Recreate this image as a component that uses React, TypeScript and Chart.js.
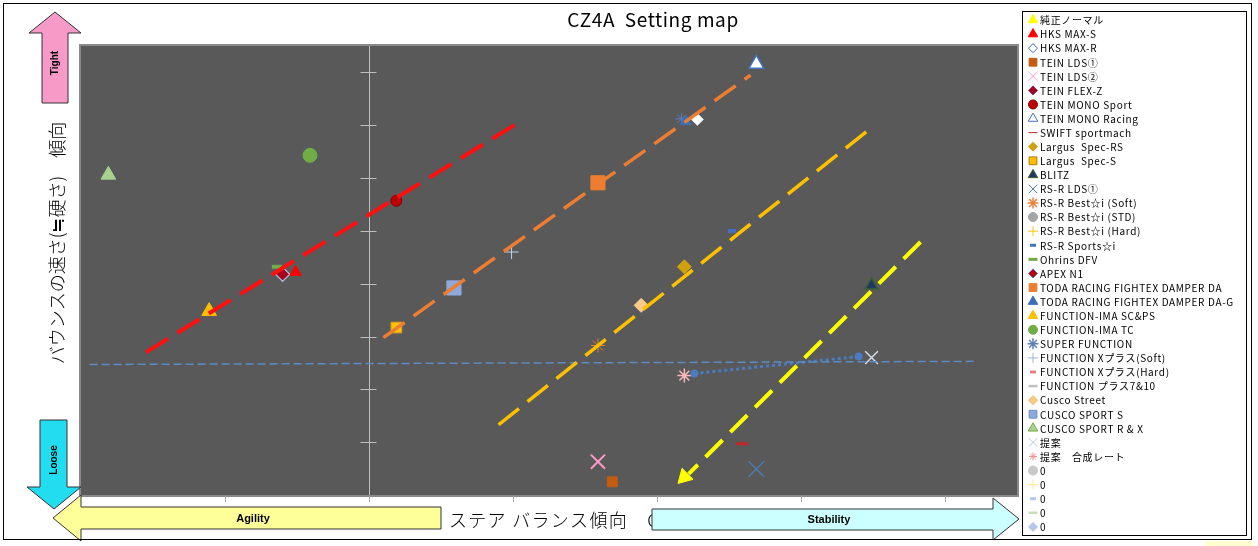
import React, { useEffect, useRef } from 'react';
import { Chart, registerables } from 'chart.js';
import { drawPoint } from 'chart.js/helpers';

Chart.register(...registerables);

// ---------- data ----------
const seriesNames = [
  '純正ノーマル', 'HKS MAX-S', 'HKS MAX-R', 'TEIN LDS①', 'TEIN LDS②', 'TEIN FLEX-Z',
  'TEIN MONO Sport', 'TEIN MONO Racing', 'SWIFT sportmach', 'Largus  Spec-RS', 'Largus  Spec-S',
  'BLITZ', 'RS-R LDS①', 'RS-R Best☆i (Soft)', 'RS-R Best☆i (STD)', 'RS-R Best☆i (Hard)',
  'RS-R Sports☆i', 'Ohrins DFV', 'APEX N1', 'TODA RACING FIGHTEX DAMPER DA',
  'TODA RACING FIGHTEX DAMPER DA-G', 'FUNCTION-IMA SC&PS', 'FUNCTION-IMA TC', 'SUPER FUNCTION',
  'FUNCTION Xプラス(Soft)', 'FUNCTION Xプラス(Hard)', 'FUNCTION プラス7&10', 'Cusco Street',
  'CUSCO SPORT S', 'CUSCO SPORT R & X', '提案', '提案　合成レート', '0', '0', '0', '0', '0',
];
const seriesX: (number | null)[] = [
  2.19, -0.51, 2.28, 1.69, 1.59, -0.60,
  0.19, 2.69, 2.59, 2.19, 0.19,
  3.49, 2.69, 1.59, null, null,
  2.52, -0.64, -0.60, 1.59,
  2.20, -1.11, -0.41, 2.17,
  0.99, 1.60, null, 1.89,
  0.59, -1.81, 3.49, 2.19, null, null, null, null, null,
];
const seriesY: (number | null)[] = [
  0.34, 4.22, 7.11, 0.25, 0.63, 4.18,
  5.57, 8.16, 0.97, 4.32, 3.17,
  3.97, 0.49, 2.83, null, null,
  5.0, 4.32, 4.18, 5.91,
  7.07, 3.48, 6.43, 7.12,
  4.6, 5.93, null, 3.59,
  3.92, 6.06, 2.6, 2.26, null, null, null, null, null,
];

const trendNames = ['redTrend', 'orangeTrend', 'goldTrend', 'yellowTrend', 'baseline', 'move'];
const trendX = [
  [-1.55, 1.02],
  [0.10, 2.65],
  [0.90, 3.51],
  [3.83, 2.22],
  [-1.94, 4.20],
  [2.26, 3.40],
];
const trendY = [
  [2.70, 7.02],
  [2.98, 7.95],
  [1.33, 7.0],
  [4.79, 0.40],
  [2.47, 2.53],
  [2.30, 2.62],
];

const xTicks = [-1, 0, 1, 2, 3, 4];
const yTicks = [1, 2, 3, 4, 5, 6, 7, 8];
const X_MIN = -2, X_MAX = 4.5, Y_MIN = 0, Y_MAX = 8.5;

const titleText = 'CZ4A  Setting map';
const xTitle = 'ステア バランス傾向　O';
const yTitle = 'バウンスの速さ(≒硬さ)　傾向';

// ---------- styles ----------
type PS = { s: string; bg: string; bc: string; r: number; bw: number; rot?: number; lr: number; lbw?: number; lbc?: string };
const seriesStyles: PS[] = [
  { s: 'triangle', bg: '#FFFF00', bc: '#FFFF00', r: 9, bw: 1, rot: 225, lr: 5.5 },
  { s: 'triangle', bg: '#FF0000', bc: '#FF0000', r: 6.5, bw: 1, lr: 5.5 },
  { s: 'rectRot', bg: '#FFFFFF', bc: '#DCE3EE', r: 6, bw: 1, lr: 4.5, lbc: '#4472C4' },
  { s: 'rect', bg: '#C55A11', bc: '#C55A11', r: 7, bw: 1, lr: 5.5 },
  { s: 'crossRot', bg: '#FF99CC', bc: '#FF99CC', r: 10, bw: 2, lr: 6.5 },
  { s: 'rectRot', bg: '#A5001E', bc: '#A5001E', r: 5.5, bw: 1, lr: 4.5, lbc: '#7F2F6F' },
  { s: 'circle', bg: '#C00000', bc: '#7F0000', r: 5.5, bw: 1, lr: 4.5 },
  { s: 'triangle', bg: '#FFFFFF', bc: '#4472C4', r: 8.5, bw: 1.5, lr: 5.5 },
  { s: 'line', bg: '#C0282D', bc: '#C0282D', r: 6, bw: 3, lr: 4.5 },
  { s: 'rectRot', bg: '#CFA10E', bc: '#CFA10E', r: 7, bw: 1, lr: 4.5 },
  { s: 'rect', bg: '#FFC000', bc: '#E3A21A', r: 7.5, bw: 1, lr: 5.5, lbc: '#B07A10' },
  { s: 'triangle', bg: '#1F3864', bc: '#3B6030', r: 7.5, bw: 1.5, lr: 5.5 },
  { s: 'crossRot', bg: '#4E79A7', bc: '#4E79A7', r: 11, bw: 1.5, lr: 6 },
  { s: 'star', bg: '#E8823A', bc: '#E8823A', r: 7, bw: 1, lr: 5.5, lbw: 1.5 },
  { s: 'circle', bg: '#A5A5A5', bc: '#A5A5A5', r: 5, bw: 1, lr: 4.5 },
  { s: 'cross', bg: '#FFC000', bc: '#FFC000', r: 6, bw: 1, lr: 5 },
  { s: 'line', bg: '#4472C4', bc: '#4472C4', r: 4, bw: 4, lr: 3, lbw: 3 },
  { s: 'line', bg: '#70AD47', bc: '#70AD47', r: 5, bw: 4, lr: 4.5, lbw: 3 },
  { s: 'rectRot', bg: '#C00000', bc: '#A9B8D8', r: 7, bw: 1.5, lr: 4.5, lbc: '#4472C4' },
  { s: 'rect', bg: '#ED7D31', bc: '#ED7D31', r: 10, bw: 1, lr: 5.5 },
  { s: 'triangle', bg: '#3D6FB6', bc: '#3D6FB6', r: 6.5, bw: 1, lr: 5.5 },
  { s: 'triangle', bg: '#FFC000', bc: '#FFC000', r: 8.5, bw: 1, lr: 5.5 },
  { s: 'circle', bg: '#70AD47', bc: '#70AD47', r: 7, bw: 1, lr: 4.5 },
  { s: 'star', bg: '#5B7FBF', bc: '#5B7FBF', r: 6, bw: 1, lr: 5.5, lbw: 1.5 },
  { s: 'cross', bg: '#BDD7EE', bc: '#BDD7EE', r: 7, bw: 1, lr: 5, lbc: '#9DB7D8' },
  { s: 'line', bg: '#F4A6A6', bc: '#F4A6A6', r: 3, bw: 4, lr: 3, lbw: 3, lbc: '#E88080' },
  { s: 'line', bg: '#A5A5A5', bc: '#A5A5A5', r: 5, bw: 3, lr: 4.5, lbw: 2.5, lbc: '#C0C0C0' },
  { s: 'rectRot', bg: '#F8CB8A', bc: '#F8CB8A', r: 7, bw: 1, lr: 4.5, lbc: '#F4B860' },
  { s: 'rect', bg: '#8EA9DB', bc: '#8EA9DB', r: 10, bw: 1, lr: 5.5, lbc: '#6F8FCB' },
  { s: 'triangle', bg: '#A9D18E', bc: '#A9D18E', r: 8.5, bw: 1, lr: 5.5, lbc: '#70AD47' },
  { s: 'crossRot', bg: '#D6DCE5', bc: '#D6DCE5', r: 9, bw: 1.5, lr: 6, lbc: '#B8C4D6' },
  { s: 'star', bg: '#F8B9B9', bc: '#F8B9B9', r: 7, bw: 1.5, lr: 4, lbc: '#F09090' },
  { s: 'circle', bg: '#C9C9C9', bc: '#C9C9C9', r: 5, bw: 1, lr: 4.5 },
  { s: 'cross', bg: '#FFE699', bc: '#FFE699', r: 5, bw: 1, lr: 5 },
  { s: 'line', bg: '#B4C7E7', bc: '#B4C7E7', r: 3, bw: 3, lr: 3, lbw: 3 },
  { s: 'line', bg: '#C5E0B4', bc: '#C5E0B4', r: 5, bw: 3, lr: 4.5, lbw: 2.5 },
  { s: 'rectRot', bg: '#B4C7E7', bc: '#B4C7E7', r: 6, bw: 1, lr: 4.5 },
];

type TS = { c: string; w: number; dash: number[]; pr?: number; cap?: CanvasLineCap };
const trendStyles: TS[] = [
  { c: '#FF1010', w: 4, dash: [26, 11] },
  { c: '#ED7D31', w: 3.5, dash: [26, 11] },
  { c: '#FFC000', w: 3.5, dash: [26, 11] },
  { c: '#FFFF00', w: 4, dash: [24, 11] },
  { c: '#5B8DC0', w: 1.5, dash: [8, 4] },
  { c: '#4A7CC0', w: 3, dash: [3, 3], pr: 4, cap: 'butt' },
];

const FONT = '"Noto Sans CJK JP", "Noto Sans", sans-serif';

function arrow(ctx: CanvasRenderingContext2D, pts: number[][], fill: string) {
  ctx.save();
  ctx.beginPath();
  pts.forEach((p, i) => (i ? ctx.lineTo(p[0], p[1]) : ctx.moveTo(p[0], p[1])));
  ctx.closePath();
  ctx.fillStyle = fill;
  ctx.fill();
  ctx.strokeStyle = '#333333';
  ctx.lineWidth = 1;
  ctx.stroke();
  ctx.restore();
}

const framePlugin = {
  id: 'frame',
  beforeDraw(chart: any) {
    const ctx: CanvasRenderingContext2D = chart.ctx;
    const { left, top, right, bottom } = chart.chartArea;
    const xs = chart.scales.x, ys = chart.scales.y;
    ctx.save();
    ctx.fillStyle = '#FFFFFF';
    ctx.fillRect(0, 0, chart.width, chart.height);
    ctx.fillStyle = '#595959';
    ctx.fillRect(left, top, right - left, bottom - top);
    ctx.strokeStyle = '#8A8A8A';
    ctx.lineWidth = 2;
    ctx.strokeRect(left - 1, top - 1, right - left + 2, bottom - top + 2);
    const x0 = Math.round(xs.getPixelForValue(0)) + 0.5;
    ctx.strokeStyle = '#BFBFBF';
    ctx.lineWidth = 1;
    ctx.beginPath();
    ctx.moveTo(x0, top);
    ctx.lineTo(x0, bottom);
    yTicks.forEach((v) => {
      const y = Math.round(ys.getPixelForValue(v)) + 0.5;
      ctx.moveTo(x0 - 9, y);
      ctx.lineTo(x0 + 7, y);
    });
    ctx.stroke();
    ctx.strokeStyle = '#A6A6A6';
    ctx.beginPath();
    xTicks.forEach((v) => {
      const x = Math.round(xs.getPixelForValue(v)) + 0.5;
      ctx.moveTo(x, bottom + 1);
      ctx.lineTo(x, bottom + 7);
    });
    ctx.stroke();
    ctx.restore();
  },
  afterDraw(chart: any) {
    const ctx: any = chart.ctx;
    ctx.save();
    // title
    ctx.fillStyle = '#000';
    ctx.font = `19px ${FONT}`;
    ctx.letterSpacing = '0.6px';
    ctx.textAlign = 'center';
    ctx.textBaseline = 'middle';
    ctx.fillText(titleText, 653, 20);
    ctx.letterSpacing = '0px';
    // y title
    ctx.save();
    ctx.translate(57, 243);
    ctx.rotate(-Math.PI / 2);
    ctx.font = `300 18px ${FONT}`;
    ctx.fillText(yTitle, 0, 0);
    ctx.restore();
    // x title
    ctx.textAlign = 'left';
    ctx.font = `300 18px ${FONT}`;
    ctx.letterSpacing = '1.3px';
    ctx.fillText(xTitle, 449, 520);
    ctx.letterSpacing = '0px';

    // arrows
    arrow(ctx, [[441, 507], [81, 507], [81, 495], [53, 518], [81, 541], [81, 529], [441, 529]], '#FFFF99');
    arrow(ctx, [[652, 509], [993, 509], [993, 498], [1019, 519], [993, 540], [993, 530], [652, 530]], '#CCFFFF');
    arrow(ctx, [[42, 103], [42, 33], [29, 33], [55, 12], [81, 33], [68, 33], [68, 103]], '#F79AC8');
    arrow(ctx, [[40, 420], [67, 420], [67, 487], [81, 487], [54, 509], [27, 487], [40, 487]], '#22DDF0');
    ctx.fillStyle = '#000';
    ctx.textAlign = 'center';
    ctx.textBaseline = 'middle';
    ctx.font = `bold 11px "Liberation Sans", Arial, sans-serif`;
    ctx.fillText('Agility', 253, 519);
    ctx.fillText('Stability', 829, 520);
    ctx.font = `bold 10px "Liberation Sans", Arial, sans-serif`;
    ctx.save();
    ctx.translate(55, 63);
    ctx.rotate(-Math.PI / 2);
    ctx.fillText('Tight', 0, 0);
    ctx.restore();
    ctx.save();
    ctx.translate(54, 460);
    ctx.rotate(-Math.PI / 2);
    ctx.fillText('Loose', 0, 0);
    ctx.restore();

    // legend
    ctx.fillStyle = '#FFFFFF';
    ctx.fillRect(1022.5, 11.5, 224, 524);
    ctx.strokeStyle = '#000';
    ctx.lineWidth = 1;
    ctx.strokeRect(1022.5, 11.5, 224, 524);
    ctx.font = `10px ${FONT}`;
    ctx.textAlign = 'left';
    ctx.textBaseline = 'middle';
    seriesNames.forEach((name, i) => {
      const st = seriesStyles[i];
      const y = 20 + i * 14.08;
      ctx.save();
      ctx.fillStyle = st.bg;
      ctx.strokeStyle = st.lbc || st.bc;
      ctx.lineWidth = st.lbw || 1;
      drawPoint(ctx, { pointStyle: st.s as any, rotation: 0, radius: st.lr, borderWidth: st.lbw || 1 } as any, 1033, y);
      ctx.restore();
      ctx.fillStyle = '#000';
      ctx.letterSpacing = '0.65px';
      ctx.fillText(name, 1040, y + 0.5);
    });
    ctx.letterSpacing = '0px';

    // outer border
    ctx.strokeStyle = '#000';
    ctx.lineWidth = 1;
    ctx.strokeRect(3.5, 3.5, 1248, 536);
    ctx.fillStyle = '#FFFFD0';
    ctx.fillRect(1205, 541, 48, 5);
    ctx.restore();
  },
};

export default function App() {
  const ref = useRef<HTMLCanvasElement | null>(null);
  useEffect(() => {
    document.body.style.margin = '0';
    const canvas = ref.current;
    if (!canvas) return;
    const pointSets = seriesNames.map((name, i) => {
      const st = seriesStyles[i];
      const x = seriesX[i], y = seriesY[i];
      return {
        type: 'scatter' as const,
        label: name,
        data: x === null || y === null ? [] : [{ x, y }],
        pointStyle: st.s,
        pointRotation: st.rot || 0,
        backgroundColor: st.bg,
        borderColor: st.bc,
        pointRadius: st.r,
        pointBorderWidth: st.bw,
        showLine: false,
        order: 1,
      };
    });
    const lineSets = trendNames.map((name, i) => {
      const st = trendStyles[i];
      return {
        type: 'scatter' as const,
        label: name,
        data: trendX[i].map((x, j) => ({ x, y: trendY[i][j] })),
        showLine: true,
        borderColor: st.c,
        backgroundColor: st.c,
        borderWidth: st.w,
        borderDash: st.dash,
        borderCapStyle: st.cap || 'butt',
        pointRadius: st.pr || 0,
        pointBorderWidth: 0,
        order: 0,
      };
    });
    const chart = new Chart(canvas, {
      type: 'scatter',
      data: { datasets: [...lineSets, ...pointSets] as any },
      options: {
        animation: false,
        responsive: false,
        devicePixelRatio: 1,
        layout: { padding: { left: 81, top: 46, right: 241, bottom: 51 } },
        scales: {
          x: { type: 'linear', min: X_MIN, max: X_MAX, display: false },
          y: { type: 'linear', min: Y_MIN, max: Y_MAX, display: false },
        },
        plugins: { legend: { display: false }, tooltip: { enabled: false }, title: { display: false } },
      },
      plugins: [framePlugin],
    });
    return () => chart.destroy();
  }, []);
  return (
    <div style={{ width: 1258, height: 546 }}>
      <canvas ref={ref} width={1258} height={546} style={{ display: 'block' }} />
    </div>
  );
}
